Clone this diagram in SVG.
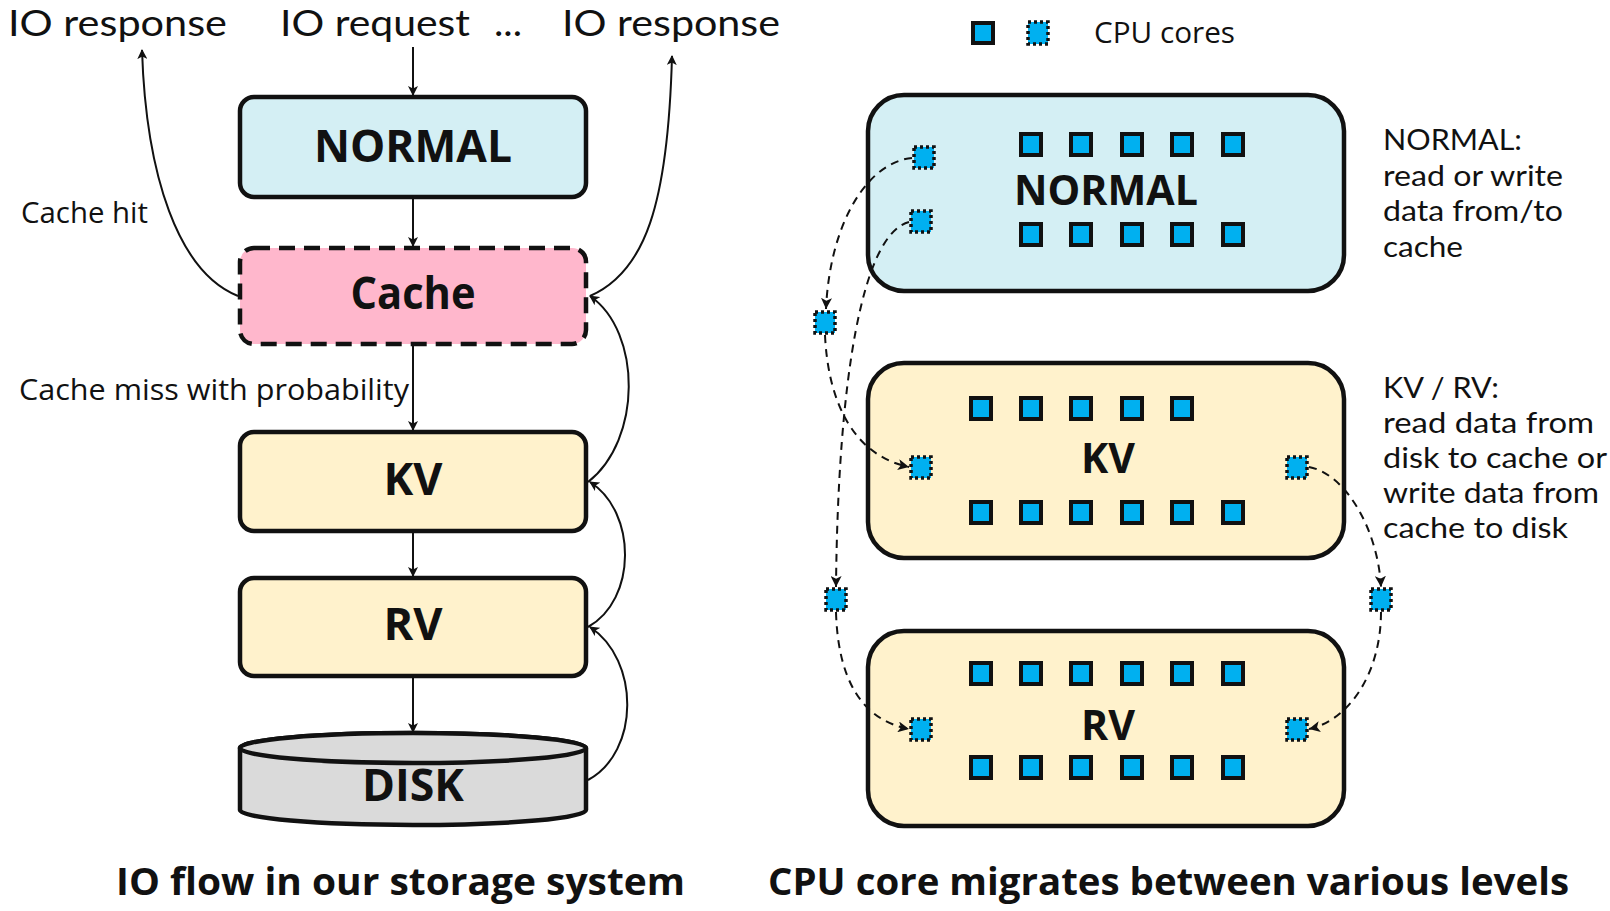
<svg xmlns="http://www.w3.org/2000/svg" width="1610" height="911" viewBox="0 0 1610 911">
<defs>
<style>
.t{font-family:"Open Sans","Noto Sans","DejaVu Sans",sans-serif;fill:#111}
.l{font-family:Lato,"Open Sans","DejaVu Sans",sans-serif;fill:#111}
.b{font-family:"Open Sans","Noto Sans","DejaVu Sans",sans-serif;font-weight:700;fill:#111}
.box{stroke:#111;stroke-width:4.5}
.conn{fill:none;stroke:#111;stroke-width:2}
.dconn{fill:none;stroke:#111;stroke-width:2;stroke-dasharray:8 6}
.core{fill:#00B0F0;stroke:#111;stroke-width:4}
.dcore{fill:#00B0F0;stroke:#111;stroke-width:3.5;stroke-dasharray:3 3}
</style>
<marker id="ah" markerWidth="10" markerHeight="10" refX="9" refY="5" orient="auto" markerUnits="userSpaceOnUse" viewBox="0 0 10 10">
<path d="M0,0 L10,5 L0,10 L2.5,5 z" fill="#111"/>
</marker>
<marker id="ahs" markerWidth="11" markerHeight="11" refX="10" refY="5" orient="auto" markerUnits="userSpaceOnUse" viewBox="0 0 10 10">
<path d="M0,0 L10,5 L0,10 L2.5,5 z" fill="#111"/>
</marker>
</defs>
<rect width="1610" height="911" fill="#fff"/>

<!-- top labels -->
<g id="labels-top">
<text class="l" x="8" y="36" font-size="36" textLength="219" lengthAdjust="spacingAndGlyphs">IO response</text>
<text class="l" x="280" y="36" font-size="36" textLength="190" lengthAdjust="spacingAndGlyphs">IO request</text>
<text class="l" x="494" y="36" font-size="36" textLength="28" lengthAdjust="spacingAndGlyphs">...</text>
<text class="l" x="562" y="36" font-size="36" textLength="218" lengthAdjust="spacingAndGlyphs">IO response</text>
<text class="t" x="21" y="223" font-size="29" textLength="127" lengthAdjust="spacingAndGlyphs">Cache hit</text>
<text class="t" x="19" y="400" font-size="29" textLength="390" lengthAdjust="spacingAndGlyphs">Cache miss with probability</text>
</g>

<!-- left nodes -->
<g id="l-normal">
<rect class="box" x="240" y="97" width="346" height="100" rx="14" fill="#D4EFF4"/>
<text class="b" x="413" y="162" font-size="44" text-anchor="middle" textLength="198" lengthAdjust="spacingAndGlyphs">NORMAL</text>
</g>
<g id="l-cache">
<rect class="box" x="240" y="248" width="346" height="96" rx="14" fill="#FFB7CC" stroke-dasharray="16 9"/>
<text class="b" x="413" y="309" font-size="44" text-anchor="middle" textLength="125" lengthAdjust="spacingAndGlyphs">Cache</text>
</g>
<g id="l-kv">
<rect class="box" x="240" y="432" width="346" height="99" rx="14" fill="#FFF2CC"/>
<text class="b" x="413" y="495" font-size="44" text-anchor="middle" textLength="59" lengthAdjust="spacingAndGlyphs">KV</text>
</g>
<g id="l-rv">
<rect class="box" x="240" y="578" width="346" height="98" rx="14" fill="#FFF2CC"/>
<text class="b" x="413" y="640" font-size="44" text-anchor="middle" textLength="59" lengthAdjust="spacingAndGlyphs">RV</text>
</g>
<g id="l-disk">
<path class="box" d="M240,748 L240,810 A173,15 0 0 0 586,810 L586,748 A173,15 0 0 0 240,748 z" fill="#DADADA"/>
<ellipse class="box" cx="413" cy="748" rx="173" ry="15" fill="#DADADA"/>
<text class="b" x="413" y="801" font-size="44" text-anchor="middle" textLength="102" lengthAdjust="spacingAndGlyphs">DISK</text>
</g>

<!-- left connectors -->
<g id="l-connectors">
<line class="conn" x1="413" y1="47" x2="413" y2="95" marker-end="url(#ah)"/>
<line class="conn" x1="413" y1="199" x2="413" y2="246" marker-end="url(#ah)"/>
<line class="conn" x1="413" y1="346" x2="413" y2="430" marker-end="url(#ah)"/>
<line class="conn" x1="413" y1="533" x2="413" y2="576" marker-end="url(#ah)"/>
<line class="conn" x1="413" y1="678" x2="413" y2="732" marker-end="url(#ah)"/>
<path class="conn" d="M238,296 C178,272 146,175 142,50" marker-end="url(#ah)"/>
<path class="conn" d="M590,296 C645,272 668,205 672,56" marker-end="url(#ah)"/>
<path class="conn" d="M588,780 C640,752 640,660 590,627" marker-end="url(#ah)"/>
<path class="conn" d="M588,627 C637,600 637,512 590,482" marker-end="url(#ah)"/>
<path class="conn" d="M588,482 C642,440 642,332 590,296" marker-end="url(#ah)"/>
</g>

<!-- legend -->
<g id="legend">
<rect class="core" x="973" y="23" width="20" height="20"/>
<rect class="dcore" x="1028" y="22" width="20" height="22"/>
<text class="t" x="1094" y="43" font-size="29" textLength="141" lengthAdjust="spacingAndGlyphs">CPU cores</text>
</g>

<!-- right nodes -->
<g id="r-normal">
<rect class="box" x="868" y="95" width="476" height="196" rx="36" fill="#D4EFF4"/>
<text class="b" x="1106" y="205" font-size="42" text-anchor="middle" textLength="184" lengthAdjust="spacingAndGlyphs">NORMAL</text>
<g>
<rect class="core" x="1021" y="134" width="20" height="21"/>
<rect class="core" x="1071" y="134" width="20" height="21"/>
<rect class="core" x="1122" y="134" width="20" height="21"/>
<rect class="core" x="1172" y="134" width="20" height="21"/>
<rect class="core" x="1223" y="134" width="20" height="21"/>
<rect class="core" x="1021" y="224" width="20" height="21"/>
<rect class="core" x="1071" y="224" width="20" height="21"/>
<rect class="core" x="1122" y="224" width="20" height="21"/>
<rect class="core" x="1172" y="224" width="20" height="21"/>
<rect class="core" x="1223" y="224" width="20" height="21"/>
</g>
</g>
<g id="r-kv">
<rect class="box" x="868" y="363" width="476" height="195" rx="36" fill="#FFF2CC"/>
<text class="b" x="1108" y="473" font-size="42" text-anchor="middle" textLength="54" lengthAdjust="spacingAndGlyphs">KV</text>
<g>
<rect class="core" x="971" y="398" width="20" height="21"/>
<rect class="core" x="1021" y="398" width="20" height="21"/>
<rect class="core" x="1071" y="398" width="20" height="21"/>
<rect class="core" x="1122" y="398" width="20" height="21"/>
<rect class="core" x="1172" y="398" width="20" height="21"/>
<rect class="core" x="971" y="502" width="20" height="21"/>
<rect class="core" x="1021" y="502" width="20" height="21"/>
<rect class="core" x="1071" y="502" width="20" height="21"/>
<rect class="core" x="1122" y="502" width="20" height="21"/>
<rect class="core" x="1172" y="502" width="20" height="21"/>
<rect class="core" x="1223" y="502" width="20" height="21"/>
</g>
</g>
<g id="r-rv">
<rect class="box" x="868" y="631" width="476" height="195" rx="36" fill="#FFF2CC"/>
<text class="b" x="1108" y="740" font-size="42" text-anchor="middle" textLength="54" lengthAdjust="spacingAndGlyphs">RV</text>
<g>
<rect class="core" x="971" y="663" width="20" height="21"/>
<rect class="core" x="1021" y="663" width="20" height="21"/>
<rect class="core" x="1071" y="663" width="20" height="21"/>
<rect class="core" x="1122" y="663" width="20" height="21"/>
<rect class="core" x="1172" y="663" width="20" height="21"/>
<rect class="core" x="1223" y="663" width="20" height="21"/>
<rect class="core" x="971" y="757" width="20" height="21"/>
<rect class="core" x="1021" y="757" width="20" height="21"/>
<rect class="core" x="1071" y="757" width="20" height="21"/>
<rect class="core" x="1122" y="757" width="20" height="21"/>
<rect class="core" x="1172" y="757" width="20" height="21"/>
<rect class="core" x="1223" y="757" width="20" height="21"/>
</g>
</g>

<!-- migrating cores -->
<g id="migrating-cores">
<rect class="dcore" x="914" y="147" width="20" height="21"/>
<rect class="dcore" x="911" y="211" width="20" height="21"/>
<rect class="dcore" x="815" y="312" width="20" height="21"/>
<rect class="dcore" x="911" y="457" width="20" height="21"/>
<rect class="dcore" x="1287" y="457" width="20" height="21"/>
<rect class="dcore" x="826" y="589" width="20" height="21"/>
<rect class="dcore" x="1371" y="589" width="20" height="21"/>
<rect class="dcore" x="911" y="719" width="20" height="21"/>
<rect class="dcore" x="1287" y="719" width="20" height="21"/>
</g>

<!-- dashed migration connectors -->
<g id="r-connectors">
<path class="dconn" d="M912,158 C868,162 830,222 826,309" marker-end="url(#ahs)"/>
<path class="dconn" d="M825,335 C828,400 852,455 909,467" marker-end="url(#ahs)"/>
<path class="dconn" d="M909,222 C862,234 838,380 836,587" marker-end="url(#ahs)"/>
<path class="dconn" d="M836,612 C838,680 862,720 909,729" marker-end="url(#ahs)"/>
<path class="dconn" d="M1309,467 C1346,474 1378,530 1381,587" marker-end="url(#ahs)"/>
<path class="dconn" d="M1381,612 C1381,672 1350,720 1309,729" marker-end="url(#ahs)"/>
</g>

<!-- notes -->
<g id="notes">
<text class="l" x="1383" y="150" font-size="29" textLength="139" lengthAdjust="spacingAndGlyphs">NORMAL:</text>
<text class="l" x="1383" y="186" font-size="29" textLength="180" lengthAdjust="spacingAndGlyphs">read or write</text>
<text class="l" x="1383" y="221" font-size="29" textLength="180" lengthAdjust="spacingAndGlyphs">data from/to</text>
<text class="l" x="1383" y="257" font-size="29" textLength="80" lengthAdjust="spacingAndGlyphs">cache</text>
<text class="l" x="1383" y="398" font-size="29" textLength="116" lengthAdjust="spacingAndGlyphs">KV / RV:</text>
<text class="l" x="1383" y="433" font-size="29" textLength="211" lengthAdjust="spacingAndGlyphs">read data from</text>
<text class="l" x="1383" y="468" font-size="29" textLength="224" lengthAdjust="spacingAndGlyphs">disk to cache or</text>
<text class="l" x="1383" y="503" font-size="29" textLength="216" lengthAdjust="spacingAndGlyphs">write data from</text>
<text class="l" x="1383" y="538" font-size="29" textLength="185" lengthAdjust="spacingAndGlyphs">cache to disk</text>
</g>

<!-- captions -->
<g id="captions">
<text class="b" x="116" y="895" font-size="37" textLength="569" lengthAdjust="spacingAndGlyphs">IO flow in our storage system</text>
<text class="b" x="768" y="895" font-size="37" textLength="801" lengthAdjust="spacingAndGlyphs">CPU core migrates between various levels</text>
</g>
</svg>
